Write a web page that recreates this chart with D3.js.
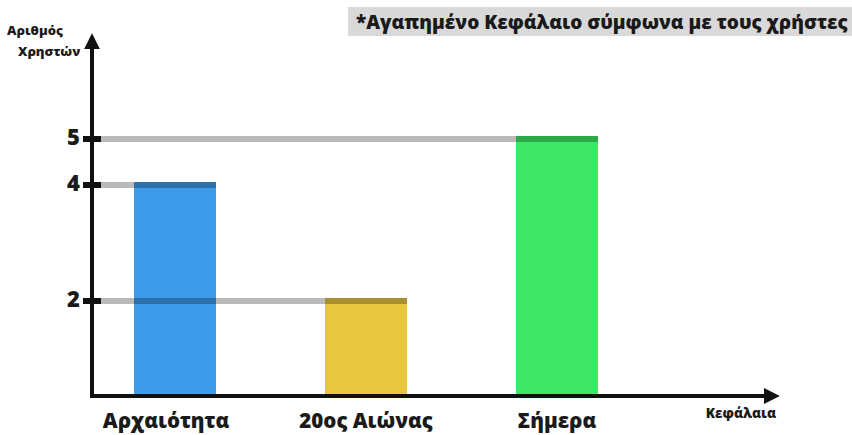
<!DOCTYPE html>
<html>
<head>
<meta charset="utf-8">
<script src="https://cdn.jsdelivr.net/npm/d3@7/dist/d3.min.js"></script>
<style>
  body { margin: 0; background: #fff; }
  text { font-family: "Open Sans", sans-serif; font-weight: 800; fill: #1a1a1a; }
</style>
</head>
<body>
<div id="chart"></div>
<script>
// data
var categories = ["Αρχαιότητα", "20ος Αιώνας", "Σήμερα"];
var users = [4, 2, 5];
var colors = ["#3d9be9", "#e8c640", "#3ee866"];
var tickValues = [2, 4, 5];
var title = "*Αγαπημένο Κεφάλαιο σύμφωνα με τους χρήστες";

var w = 852, h = 435;
var axisX = 92, axisY = 396;
var lineW = 6;

var svg = d3.select("#chart").append("svg")
    .attr("width", w)
    .attr("height", h);

// the original picture is hand drawn, its value spacing is not even
var y = d3.scaleLinear()
    .domain([0, 2, 4, 5])
    .range([axisY, 301, 185, 139]);

var x = d3.scalePoint()
    .domain(categories)
    .range([79.5, 652.5])
    .padding(0.5);

var barWidth = 82;

// title box
svg.append("rect")
    .attr("x", 348).attr("y", 7)
    .attr("width", w - 348).attr("height", 29)
    .attr("fill", "#d9d9d9");
svg.append("text")
    .attr("x", 356).attr("y", 29)
    .attr("font-size", 19)
    .text(title);

// bars (top edge lines up with top of the guide line)
svg.selectAll(".bar")
    .data(users)
    .enter().append("rect")
    .attr("class", "bar")
    .attr("x", function(d, i) { return x(categories[i]) - barWidth / 2; })
    .attr("y", function(d) { return y(d) - lineW / 2; })
    .attr("width", barWidth)
    .attr("height", function(d) { return axisY - y(d) + lineW / 2; })
    .attr("fill", function(d, i) { return colors[i]; });

// guide lines from axis to the bar with that value
svg.selectAll(".guide")
    .data(tickValues)
    .enter().append("line")
    .attr("class", "guide")
    .attr("x1", axisX + 9)
    .attr("x2", function(v) {
      var i = users.indexOf(v);
      return x(categories[i]) + barWidth / 2;
    })
    .attr("y1", function(v) { return y(v); })
    .attr("y2", function(v) { return y(v); })
    .attr("stroke", "#000")
    .attr("stroke-opacity", 0.27)
    .attr("stroke-width", lineW);

// arrow marker
var defs = svg.append("defs");
defs.append("marker")
    .attr("id", "arrow")
    .attr("viewBox", "0 0 10 10")
    .attr("refX", 2).attr("refY", 5)
    .attr("markerWidth", 4).attr("markerHeight", 4)
    .attr("orient", "auto")
  .append("path")
    .attr("d", "M0,0 L10,5 L0,10 Z")
    .attr("fill", "#111");

// axes
svg.append("line")
    .attr("x1", axisX).attr("y1", axisY + 2)
    .attr("x2", axisX).attr("y2", 46)
    .attr("stroke", "#111").attr("stroke-width", 4)
    .attr("marker-end", "url(#arrow)");
svg.append("line")
    .attr("x1", axisX - 2).attr("y1", axisY)
    .attr("x2", 767).attr("y2", axisY)
    .attr("stroke", "#111").attr("stroke-width", 4)
    .attr("marker-end", "url(#arrow)");

// ticks
svg.selectAll(".tick")
    .data(tickValues)
    .enter().append("line")
    .attr("class", "tick")
    .attr("x1", axisX - 9).attr("x2", axisX + 9)
    .attr("y1", function(v) { return y(v); })
    .attr("y2", function(v) { return y(v); })
    .attr("stroke", "#111").attr("stroke-width", lineW);

svg.selectAll(".tickLabel")
    .data(tickValues)
    .enter().append("text")
    .attr("class", "tickLabel")
    .attr("x", 80)
    .attr("y", function(v) { return y(v) + 6; })
    .attr("text-anchor", "end")
    .attr("font-size", 22)
    .text(function(v) { return v; });

// category labels
svg.selectAll(".catLabel")
    .data(categories)
    .enter().append("text")
    .attr("class", "catLabel")
    .attr("x", function(d) { return x(d) - (d === categories[0] ? 9 : 0); })
    .attr("y", 428)
    .attr("text-anchor", "middle")
    .attr("font-size", 20.5)
    .text(function(d) { return d; });

// axis titles
svg.append("text")
    .attr("x", 7).attr("y", 35)
    .attr("font-size", 13)
    .text("Αριθμός");
svg.append("text")
    .attr("x", 18).attr("y", 56)
    .attr("font-size", 13)
    .text("Χρηστών");
svg.append("text")
    .attr("x", 776).attr("y", 418)
    .attr("text-anchor", "end")
    .attr("font-size", 13.5)
    .text("Κεφάλαια");
</script>
</body>
</html>
